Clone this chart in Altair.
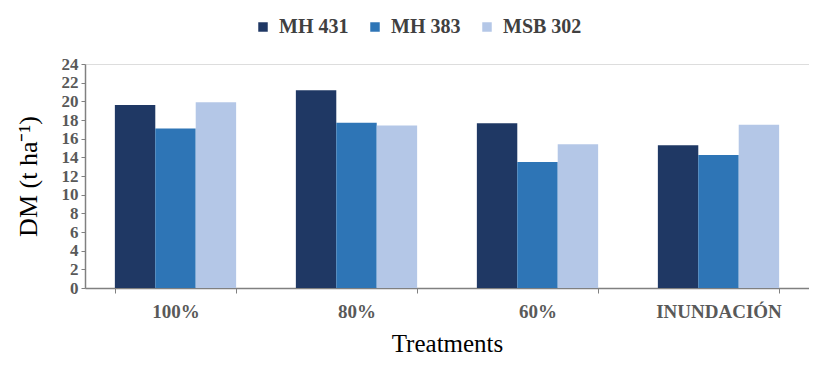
import altair as alt
import pandas as pd

treatments = ["100%", "80%", "60%", "INUNDACIÓN"]
varieties = ["MH 431", "MH 383", "MSB 302"]
mh431 = [19.6, 21.2, 17.65, 15.3]
mh383 = [17.1, 17.7, 13.5, 14.25]
msb302 = [19.9, 17.4, 15.4, 17.5]
colors = ["#1F3864", "#2E75B6", "#B4C7E7"]

rows = []
for i, t in enumerate(treatments):
    for v, vals in zip(varieties, [mh431, mh383, msb302]):
        rows.append({"Treatment": t, "Variety": v, "DM": vals[i]})
df = pd.DataFrame(rows)

font = "Liberation Serif"

chart = alt.Chart(df).mark_bar().encode(
    x=alt.X("Treatment:N", sort=treatments,
            scale=alt.Scale(paddingInner=0.33, paddingOuter=0.165),
            axis=alt.Axis(title="Treatments", labelAngle=0, labelFont=font,
                          labelFontWeight="bold", labelFontSize=19, labelColor="#595959",
                          labelPadding=9, titleFont=font, titleFontSize=25,
                          titleFontWeight="normal", titleColor="#000000", titlePadding=10,
                          domainColor="#808080", tickColor="#808080", tickSize=5,
                          tickBand="extent", domainWidth=1.5)),
    xOffset=alt.XOffset("Variety:N", sort=varieties),
    y=alt.Y("DM:Q", scale=alt.Scale(domain=[0, 24]),
            axis=alt.Axis(title="DM (t ha⁻¹)", values=list(range(0, 25, 2)), grid=False,
                          labelFont=font, labelFontWeight="bold", labelFontSize=17,
                          labelColor="#595959", labelPadding=3, titleFont=font,
                          titleFontSize=26, titleFontWeight="normal", titleColor="#000000",
                          titlePadding=20, domainColor="#808080", tickColor="#808080",
                          tickSize=4, domainWidth=1.5)),
    color=alt.Color("Variety:N", sort=varieties,
                    scale=alt.Scale(domain=varieties, range=colors),
                    legend=alt.Legend(title=None, orient="none", direction="horizontal",
                                      legendX=168, legendY=-47, symbolType="square",
                                      symbolSize=90, labelFont=font, labelFontWeight="bold",
                                      labelFontSize=20, labelColor="#404040",
                                      columnPadding=16, labelOffset=6, symbolStrokeWidth=0)),
).properties(
    width=724, height=224,
    autosize=alt.AutoSizeParams(type="none"),
    padding={"left": 77, "top": 56, "right": 0, "bottom": 80},
).configure_view(stroke=None).configure(background="white")

chart.save("out.html", embed_options={"renderer": "svg", "actions": False})
